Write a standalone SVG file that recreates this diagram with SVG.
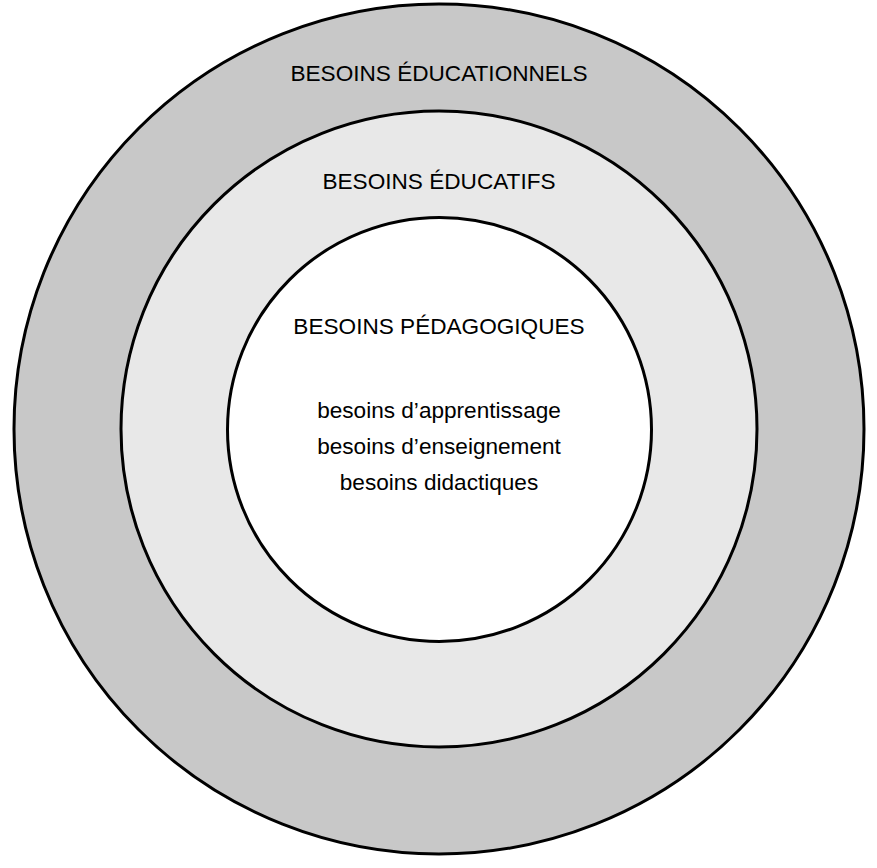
<svg xmlns="http://www.w3.org/2000/svg" width="877" height="868" viewBox="0 0 877 868">
<style>
circle{stroke:#000;stroke-width:3}
text{font-family:"Liberation Sans",Arial,sans-serif;font-size:22.6px;fill:#000;text-anchor:middle}
</style>
<rect width="877" height="868" fill="#fff"/>
<g id="educationnels"><circle cx="439" cy="429" r="425" fill="#c8c8c8"/><text x="439" y="81">BESOINS ÉDUCATIONNELS</text></g>
<g id="educatifs"><circle cx="439" cy="429" r="318" fill="#e8e8e8"/><text x="439" y="189">BESOINS ÉDUCATIFS</text></g>
<g id="pedagogiques"><circle cx="439.5" cy="429.5" r="212" fill="#fff"/><text x="439" y="334">BESOINS PÉDAGOGIQUES</text>
<text x="439" y="418">besoins d’apprentissage</text>
<text x="439" y="454">besoins d’enseignement</text>
<text x="439" y="490">besoins didactiques</text></g>
</svg>
